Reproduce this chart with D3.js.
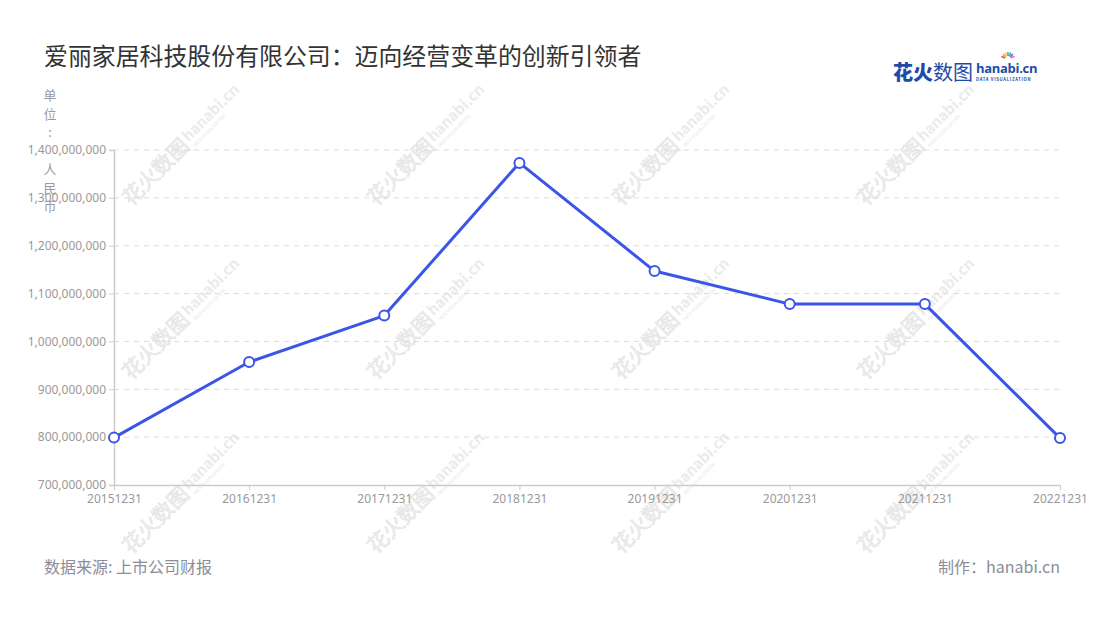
<!DOCTYPE html>
<html>
<head>
<meta charset="utf-8">
<script src="https://cdn.jsdelivr.net/npm/d3@7"></script>
<style>
  body { margin: 0; background: #fff; }
  svg { font-family: "Noto Sans CJK SC", "Noto Sans", sans-serif; }
</style>
</head>
<body>
<div id="chart"></div>
<script>
const width = 1100;
const height = 620;

// 年报日期与营业收入（人民币）
const dates = ["20151231", "20161231", "20171231", "20181231", "20191231", "20201231", "20211231", "20221231"];
const revenue = [799000000, 957000000, 1054000000, 1373000000, 1147000000, 1078000000, 1078000000, 798000000];
const yTicks = [700000000, 800000000, 900000000, 1000000000, 1100000000, 1200000000, 1300000000, 1400000000];
const unitChars = ["单", "位", ":", " ", "人", "民", "币"];

const margin = {top: 150, right: 40, bottom: 135, left: 114};

const svg = d3.select("#chart")
    .append("svg")
    .attr("width", width)
    .attr("height", height);

// watermark tiles
const wmCols = [180, 425, 670, 915];
const wmRows = [148, 322, 496];
const wm = svg.append("g").attr("class", "watermark").style("pointer-events", "none");
wmRows.forEach(y => {
    wmCols.forEach(x => {
        const g = wm.append("g").attr("transform", `translate(${x},${y}) rotate(-45)`);
        g.append("text")
            .attr("x", -76).attr("y", 7)
            .attr("font-size", 21)
            .attr("fill", "#f0f0f0")
            .attr("stroke", "#e2e2e2").attr("stroke-width", 0.6)
            .text("花火数图");
        g.append("text")
            .attr("x", 10).attr("y", 2)
            .attr("font-size", 15).attr("font-weight", 700)
            .attr("fill", "#ebebeb")
            .text("hanabi.cn");
        g.append("text")
            .attr("x", 11).attr("y", 10)
            .attr("font-size", 4.5)
            .attr("fill", "#e6e6e6")
            .text("DATA VISUALIZATION");
    });
});

const x = d3.scalePoint()
    .domain(dates)
    .range([margin.left, width - margin.right]);

const y = d3.scaleLinear()
    .domain([700000000, 1400000000])
    .range([height - margin.bottom, margin.top]);

// grid
svg.append("g")
    .selectAll("line")
    .data(yTicks.slice(1))
    .join("line")
    .attr("x1", margin.left)
    .attr("x2", width - margin.right)
    .attr("y1", d => y(d))
    .attr("y2", d => y(d))
    .attr("stroke", "#dcdcdc")
    .attr("stroke-dasharray", "5,5");

// y axis
const yAxis = svg.append("g")
    .attr("transform", `translate(${margin.left},0)`)
    .call(d3.axisLeft(y).tickValues(yTicks).tickFormat(d3.format(",")).tickSize(5).tickPadding(3));
yAxis.select(".domain").attr("stroke", "#ccc").attr("stroke-width", 1.5);
yAxis.selectAll(".tick line").attr("stroke", "#ccc");
yAxis.selectAll("text").attr("fill", "#999").attr("font-size", 12).attr("font-family", "'Noto Sans', sans-serif");

// x axis
const xAxis = svg.append("g")
    .attr("transform", `translate(0,${height - margin.bottom})`)
    .call(d3.axisBottom(x).tickSize(5).tickPadding(4).tickSizeOuter(0));
xAxis.select(".domain").attr("stroke", "#ccc").attr("stroke-width", 1.5);
xAxis.selectAll(".tick line").attr("stroke", "#ccc");
xAxis.selectAll("text").attr("fill", "#999").attr("font-size", 12).attr("font-family", "'Noto Sans', sans-serif");

// unit label, one char per line
svg.append("g")
    .selectAll("text")
    .data(unitChars)
    .join("text")
    .attr("x", 50)
    .attr("y", (d, i) => 100 + i * 18.5)
    .attr("text-anchor", "middle")
    .attr("font-size", 13)
    .attr("fill", "#9a9aa6")
    .text(d => d);

// line
const points = dates.map((d, i) => ({date: d, value: revenue[i]}));
const line = d3.line()
    .x(d => x(d.date))
    .y(d => y(d.value));

svg.append("path")
    .datum(points)
    .attr("fill", "none")
    .attr("stroke", "#3b55e6")
    .attr("stroke-width", 3)
    .attr("stroke-linejoin", "round")
    .attr("d", line);

svg.append("g")
    .selectAll("circle")
    .data(points)
    .join("circle")
    .attr("cx", d => x(d.date))
    .attr("cy", d => y(d.value))
    .attr("r", 5)
    .attr("fill", "#fff")
    .attr("stroke", "#3b55e6")
    .attr("stroke-width", 2);

// title
svg.append("text")
    .attr("x", 44)
    .attr("y", 65)
    .attr("font-size", 23.9)
    .attr("fill", "#333")
    .text("爱丽家居科技股份有限公司：迈向经营变革的创新引领者");

// logo
const logo = svg.append("g").attr("transform", "translate(893,80)");
logo.append("text")
    .attr("x", 0).attr("y", 0)
    .attr("font-size", 20).attr("font-weight", 900)
    .attr("fill", "#1f4aa8")
    .text("花火");
logo.append("text")
    .attr("x", 40).attr("y", 0)
    .attr("font-size", 20)
    .attr("fill", "#1f4aa8")
    .text("数图");
logo.append("text")
    .attr("x", 83).attr("y", -7)
    .attr("font-size", 13).attr("font-weight", 700)
    .attr("fill", "#1f4aa8")
    .attr("letter-spacing", -0.3)
    .attr("font-family", "'Open Sans', sans-serif")
    .text("hanabi.cn");
logo.append("text")
    .attr("x", 83).attr("y", 1)
    .attr("font-size", 4.2).attr("font-weight", 700)
    .attr("fill", "#1f4aa8")
    .attr("letter-spacing", 0.7)
    .text("DATA VISUALIZATION");
const burstColors = ["#e84a5f", "#f6a21e", "#f6d21e", "#4cc46a", "#2aa8e0", "#7a5ce0", "#e05cb8"];
burstColors.forEach((c, i) => {
    const a = (-160 + i * 23) * Math.PI / 180;
    logo.append("line")
        .attr("x1", 115 + Math.cos(a) * 3).attr("y1", -21 + Math.sin(a) * 3)
        .attr("x2", 115 + Math.cos(a) * 7).attr("y2", -21 + Math.sin(a) * 7)
        .attr("stroke", c).attr("stroke-width", 1.6);
});

// footer
svg.append("text")
    .attr("x", 44)
    .attr("y", 573)
    .attr("font-size", 16)
    .attr("fill", "#8c8c99")
    .text("数据来源: 上市公司财报");

svg.append("text")
    .attr("x", 1060)
    .attr("y", 573)
    .attr("text-anchor", "end")
    .attr("font-size", 16)
    .attr("fill", "#8c8c99")
    .text("制作：hanabi.cn");
</script>
</body>
</html>
